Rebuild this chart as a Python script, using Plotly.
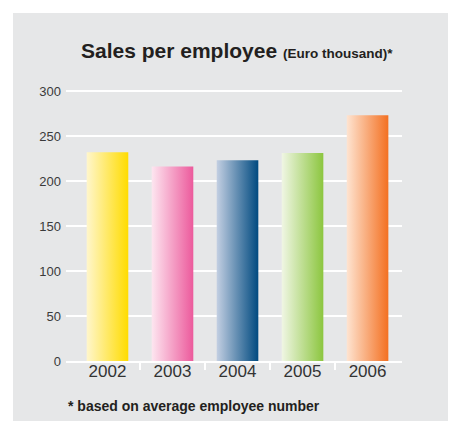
import plotly.graph_objects as go

# Sales per employee, Euro thousand
years = ["2002", "2003", "2004", "2005", "2006"]
sales = [232, 216, 223, 231, 273]

# Horizontal gradient per bar: light edge -> full colour
light_colors = ["#fff6cc", "#fde6f0", "#c3cfe2", "#f0f6e4", "#fee4d1"]
dark_colors = ["#ffdc00", "#ec5a9c", "#004a80", "#8cc63f", "#f37021"]

y_ticks = [0, 50, 100, 150, 200, 250, 300]

W, H = 450, 421
ML, MR, MT, MB = 66, 48, 80, 60


def px_x(px):
    return (px - ML) / (W - ML - MR)


def px_y(py):
    return 1 - (py - MT) / (H - MT - MB)


half_w = 0.32
fig = go.Figure()
for i, (yr, v) in enumerate(zip(years, sales)):
    fig.add_trace(go.Scatter(
        x=[i - half_w, i + half_w, i + half_w, i - half_w, i - half_w],
        y=[0, 0, v, v, 0],
        fill="toself",
        mode="none",
        fillgradient=dict(type="horizontal",
                          colorscale=[[0, light_colors[i]], [1, dark_colors[i]]]),
        hoverinfo="skip",
        showlegend=False,
        name=yr,
    ))

plot_h = H - MT - MB
y_top = plot_h / 0.9

fig.update_layout(
    width=W, height=H,
    margin=dict(l=ML, r=MR, t=MT, b=MB, pad=0),
    paper_bgcolor="white",
    plot_bgcolor="rgba(0,0,0,0)",
    font=dict(family="Liberation Sans, Arial, sans-serif", color="#333333"),
    xaxis=dict(
        range=[-0.638, 4.53],
        tickvals=list(range(len(years))),
        ticktext=years,
        ticks="",
        tickfont=dict(size=17, color="#333333"),
        ticklabelstandoff=-6,
        showgrid=False, zeroline=False,
        showline=True, linecolor="white", linewidth=2,
        minor=dict(tickvals=[0.5, 1.5, 2.5, 3.5], ticks="outside",
                   ticklen=7, tickwidth=1.5, tickcolor="white", showgrid=False),
        fixedrange=True,
    ),
    yaxis=dict(
        range=[0, y_top],
        tickvals=y_ticks,
        ticks="",
        tickfont=dict(size=13, color="#3a3a3a"),
        showgrid=True, gridcolor="white", gridwidth=1.5,
        zeroline=False, showline=False,
        ticklabelstandoff=4,
        fixedrange=True,
    ),
    shapes=[dict(
        type="rect", xref="paper", yref="paper",
        x0=px_x(13), x1=px_x(448), y0=px_y(13), y1=px_y(421),
        fillcolor="#e6e7e8", line=dict(width=0), layer="below",
    )],
    annotations=[
        dict(
            xref="paper", yref="paper",
            x=px_x(237), y=px_y(64), xanchor="center", yanchor="bottom",
            text="<b>Sales per employee</b> <b><span style='font-size:13.5px'>(Euro thousand)*</span></b>",
            showarrow=False,
            font=dict(size=21, color="#231f20"),
        ),
        dict(
            xref="paper", yref="paper",
            x=px_x(66), y=px_y(416), xanchor="left", yanchor="bottom",
            text="<b>* based on average employee number</b>",
            showarrow=False,
            font=dict(size=14, color="#231f20"),
        ),
    ],
)

fig.write_html("out.html")
